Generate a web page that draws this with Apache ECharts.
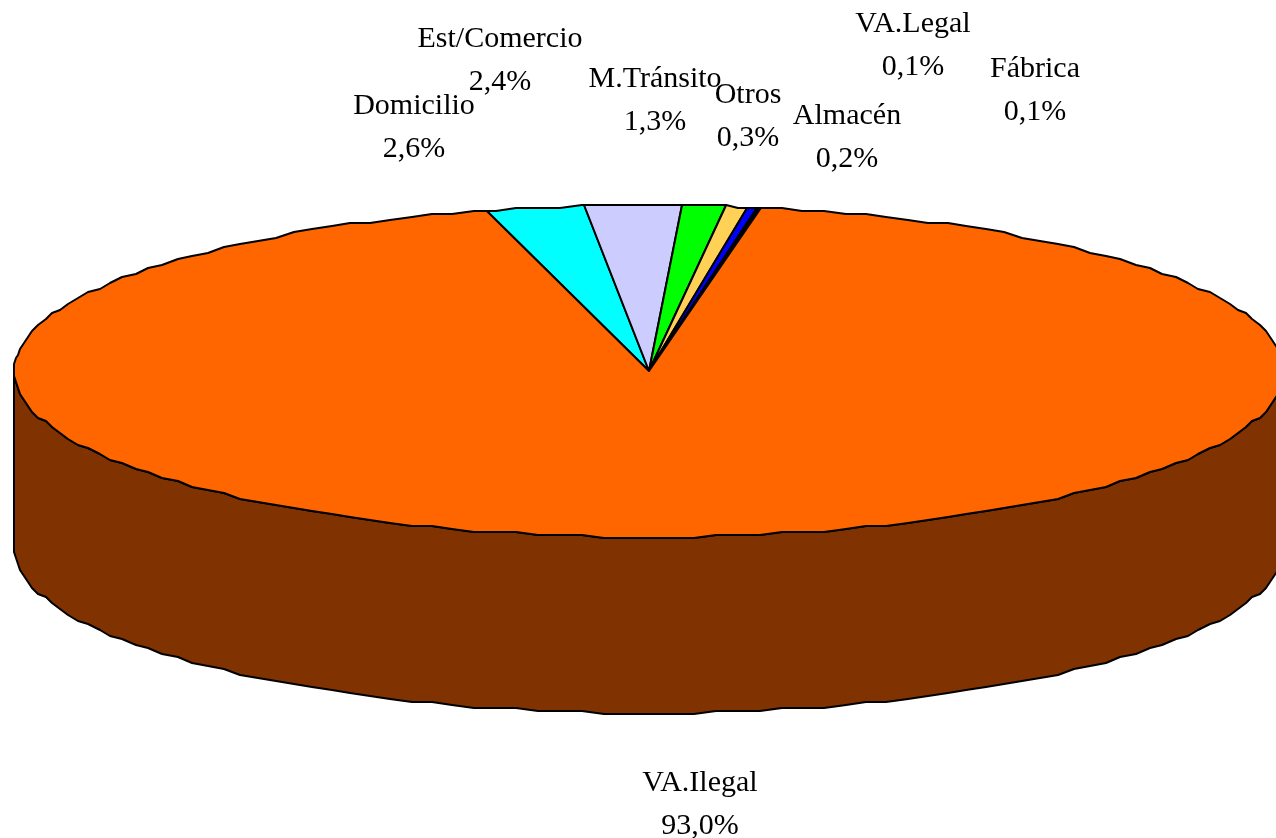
<!DOCTYPE html>
<html>
<head>
<meta charset="utf-8">
<style>
    html, body { margin: 0; padding: 0; background: #fff; }
    #chart { width: 1276px; height: 838px; }
</style>
</head>
<body>
<div id="chart"></div>
<script src="https://cdn.jsdelivr.net/npm/echarts@6/dist/echarts.min.js"></script>
<script>
// clockwise from the start angle
const categories = ['Domicilio', 'Est/Comercio', 'M.Tránsito', 'Otros', 'Almacén', 'Fábrica', 'VA.Legal', 'VA.Ilegal'];
// what the labels print
const percentages = [2.6, 2.4, 1.3, 0.3, 0.2, 0.1, 0.1, 93.0];
// slice widths as measured on the picture, they differ a bit from the printed labels
const drawnShares = [2.48, 2.46, 1.11, 0.53, 0.25, 0.05, 0.05, 93.07];
const sliceColors = ['#00FFFF', '#CCCCFF', '#00FF00', '#FFD257', '#0000FF', '#000080', '#000033', '#FF6600'];
const wallColors = ['#008080', '#666680', '#008000', '#806619', '#000080', '#000040', '#000019', '#803300'];

// label centres, same order as categories
const labelCenters = [[414, 128], [500, 61], [655, 101], [748, 117], [847, 138], [1035, 91], [913, 46], [700, 805]];

// pie geometry, the original is a low-res ellipse so the rim gets snapped to a coarse grid
const cx = 649, cy = 371, rx = 635, ry = 166, depth = 176;
const startAngle = -14.8;
const stepDeg = 2, snapX = 2, snapY = 3;
const total = drawnShares.reduce((a, b) => a + b, 0);

function sliceRange(i) {
    let from = startAngle;
    for (let k = 0; k < i; k++) from += drawnShares[k] / total * 360;
    return [from, from + drawnShares[i] / total * 360];
}

function rimPoint(deg, dy, exactX) {
    const rad = deg * Math.PI / 180;
    const rawX = cx + rx * Math.sin(rad);
    const x = exactX ? rawX : Math.round((rawX - (cx - rx)) / snapX) * snapX + (cx - rx);
    const y = Math.round((cy - ry * Math.cos(rad) - (cy - ry)) / snapY) * snapY + (cy - ry);
    return [x, y + dy];
}

function rimPoints(from, to, dy) {
    const pts = [rimPoint(from, dy, true)];
    let d = Math.ceil(from / stepDeg) * stepDeg;
    if (d === from) d += stepDeg;
    for (; d < to; d += stepDeg) pts.push(rimPoint(d, dy, false));
    pts.push(rimPoint(to, dy, true));
    return pts;
}

function lineStyle(fill) {
    return {fill: fill, stroke: '#000', lineWidth: 2, lineJoin: 'round'};
}

function renderWall(params) {
    const i = params.dataIndex;
    const range = sliceRange(i);
    // only the front half of the cylinder can be seen
    let from = Math.max(range[0], 90), to = Math.min(range[1], 270);
    if (from >= to) return {type: 'group', children: []};
    const rim = rimPoints(from, to, 0);
    const low = rimPoints(from, to, depth).reverse();
    return {
        type: 'polygon',
        shape: {points: rim.concat(low)},
        style: lineStyle(wallColors[i]),
    };
}

function renderTop(params) {
    const i = params.dataIndex;
    const range = sliceRange(i);
    return {
        type: 'polygon',
        shape: {points: [[cx, cy]].concat(rimPoints(range[0], range[1], 0))},
        style: lineStyle(sliceColors[i]),
    };
}

function renderLabel(params) {
    const i = params.dataIndex;
    const text = categories[i] + '\n' + percentages[i].toFixed(1).replace('.', ',') + '%';
    return {
        type: 'text',
        x: labelCenters[i][0],
        y: labelCenters[i][1],
        style: {
            text: text,
            fill: '#000',
            font: '30px "Liberation Serif"',
            lineHeight: 43,
            align: 'center',
            verticalAlign: 'middle',
        },
    };
}

const chart = echarts.init(document.getElementById('chart'));
chart.setOption({
    animation: false,
    backgroundColor: '#fff',
    series: [
        {type: 'custom', coordinateSystem: 'none', data: drawnShares, renderItem: renderWall, silent: true, z: 1},
        {type: 'custom', coordinateSystem: 'none', data: drawnShares, renderItem: renderTop, silent: true, z: 2},
        {type: 'custom', coordinateSystem: 'none', data: percentages, renderItem: renderLabel, silent: true, z: 3},
    ],
});
</script>
</body>
</html>
